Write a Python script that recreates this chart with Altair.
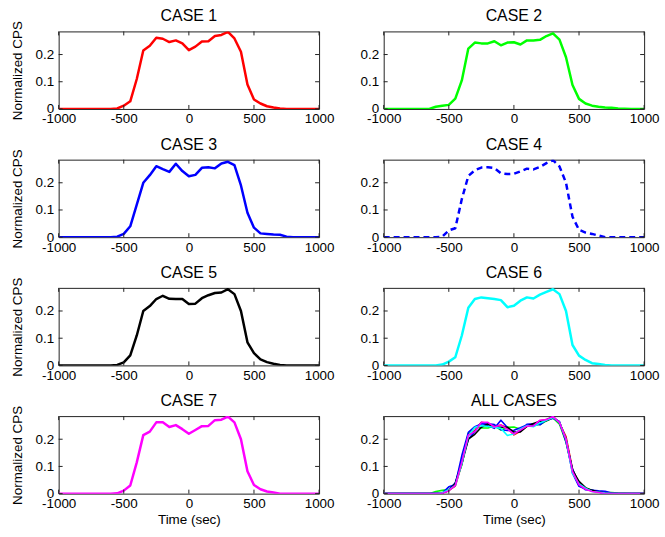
import altair as alt
import pandas as pd

TIME = [-1000, -950, -900, -850, -800, -750, -700, -650, -600, -550,
        -500, -450, -400, -350, -300, -250, -200, -150, -100, -50,
        0, 50, 100, 150, 200, 250, 300, 350, 400, 450,
        500, 550, 600, 650, 700, 750, 800, 850, 900, 950, 1000]

CASE1 = [0, 0, 0, 0, 0, 0, 0, 0, 0, 0.002,
         0.012, 0.028, 0.11, 0.215, 0.232, 0.262, 0.258, 0.246, 0.252, 0.241,
         0.216, 0.229, 0.248, 0.249, 0.268, 0.272, 0.283, 0.259, 0.21, 0.09,
         0.035, 0.02, 0.01, 0.005, 0.002, 0, 0, 0, 0, 0, 0]
CASE2 = [0, 0, 0, 0, 0, 0, 0, 0, 0.008, 0.012,
         0.015, 0.038, 0.105, 0.222, 0.244, 0.241, 0.241, 0.249, 0.234, 0.244,
         0.245, 0.237, 0.252, 0.252, 0.254, 0.268, 0.278, 0.255, 0.19, 0.088,
         0.037, 0.02, 0.012, 0.008, 0.005, 0.004, 0.002, 0.001, 0, 0, 0]
CASE3 = [0, 0, 0, 0, 0, 0, 0, 0, 0, 0.002,
         0.012, 0.04, 0.12, 0.2, 0.228, 0.261, 0.25, 0.24, 0.27, 0.243,
         0.224, 0.229, 0.255, 0.257, 0.253, 0.271, 0.277, 0.265, 0.19, 0.09,
         0.035, 0.014, 0.012, 0.01, 0.009, 0.002, 0, 0, 0, 0, 0]
CASE4 = [0, 0, 0, 0, 0, 0, 0, 0, 0, 0.002,
         0.025, 0.033, 0.14, 0.225, 0.246, 0.256, 0.257, 0.254, 0.235, 0.232,
         0.233, 0.242, 0.252, 0.249, 0.258, 0.272, 0.283, 0.26, 0.2, 0.075,
         0.027, 0.017, 0.012, 0.006, 0, 0, 0, 0, 0, 0, 0]
CASE5 = [0, 0, 0, 0, 0, 0, 0, 0, 0, 0.002,
         0.011, 0.037, 0.11, 0.2, 0.218, 0.244, 0.256, 0.245, 0.244, 0.244,
         0.226, 0.227, 0.247, 0.258, 0.266, 0.268, 0.28, 0.262, 0.2, 0.085,
         0.045, 0.022, 0.012, 0.006, 0.002, 0, 0, 0, 0, 0, 0]
CASE6 = [0, 0, 0, 0, 0, 0, 0, 0, 0, 0.003,
         0.014, 0.03, 0.11, 0.212, 0.244, 0.25, 0.247, 0.244, 0.24, 0.214,
         0.219, 0.238, 0.25, 0.246, 0.26, 0.27, 0.28, 0.262, 0.2, 0.075,
         0.036, 0.02, 0.008, 0.005, 0.002, 0, 0, 0, 0, 0, 0]
CASE7 = [0, 0, 0, 0, 0, 0, 0, 0, 0, 0.001,
         0.011, 0.03, 0.115, 0.215, 0.228, 0.262, 0.262, 0.245, 0.252, 0.237,
         0.22, 0.234, 0.248, 0.249, 0.27, 0.272, 0.283, 0.262, 0.2, 0.082,
         0.032, 0.016, 0.008, 0.004, 0, 0, 0, 0, 0, 0, 0]

SERIES = [CASE1, CASE2, CASE3, CASE4, CASE5, CASE6, CASE7]
TITLES = ["CASE 1", "CASE 2", "CASE 3", "CASE 4", "CASE 5", "CASE 6", "CASE 7", "ALL CASES"]
COLORS = ["#ff0000", "#00ff00", "#0000ff", "#0000ff", "#000000", "#00ffff", "#ff00ff"]
DASHES = [None, None, None, [6, 4], None, None, None]
XTICKS = [-1000, -500, 0, 500, 1000]
YTICKS = [0, 0.1, 0.2]

W, H = 262, 78
FONT = "Liberation Sans"
xs = alt.Scale(domain=[-1000, 1000], nice=False, zero=False)
ys = alt.Scale(domain=[0, 0.285], nice=False)


def x_axis(bottom):
    return alt.Axis(values=XTICKS, tickSize=0, domain=False, grid=False, labelPadding=3,
                    labelExpr="datum.value + ''", labelFlush=False, labelFontSize=13.5,
                    labelColor="black", titleFontSize=13.5, titleFontWeight="normal",
                    titleColor="black", titlePadding=3,
                    title="Time (sec)" if bottom else "")


def y_axis(left):
    return alt.Axis(values=YTICKS, tickSize=0, domain=False, grid=False, labelPadding=5,
                    labelExpr="datum.value + ''", labelFlush=False, labelFontSize=13.5,
                    labelColor="black", titleFontSize=13.5, titleFontWeight="normal",
                    titleColor="black", titlePadding=11,
                    title="Normalized CPS" if left else "")


def line(vals, color, dash, sw, left, bottom):
    df = pd.DataFrame({"time": TIME, "cps": vals})
    mk = dict(color=color, strokeWidth=sw, clip=True, strokeJoin="round")
    if dash:
        mk["strokeDash"] = dash
    return alt.Chart(df).mark_line(**mk).encode(
        x=alt.X("time:Q", scale=xs, axis=x_axis(bottom)),
        y=alt.Y("cps:Q", scale=ys, axis=y_axis(left)),
    )


def ticks(left, bottom):
    xt = pd.DataFrame({"time": XTICKS})
    yt = pd.DataFrame({"cps": YTICKS})
    c = "#222222"
    xb = alt.Chart(xt).mark_rule(color=c, strokeWidth=1).encode(
        x=alt.X("time:Q", scale=xs, axis=x_axis(bottom)), y=alt.value(H - 4), y2=alt.value(H))
    xtp = alt.Chart(xt).mark_rule(color=c, strokeWidth=1).encode(
        x=alt.X("time:Q", scale=xs, axis=x_axis(bottom)), y=alt.value(0), y2=alt.value(4))
    yl = alt.Chart(yt).mark_rule(color=c, strokeWidth=1).encode(
        y=alt.Y("cps:Q", scale=ys, axis=y_axis(left)), x=alt.value(0), x2=alt.value(4))
    yr = alt.Chart(yt).mark_rule(color=c, strokeWidth=1).encode(
        y=alt.Y("cps:Q", scale=ys, axis=y_axis(left)), x=alt.value(W - 4), x2=alt.value(W))
    return [xb, xtp, yl, yr]


def title_text(t):
    return alt.Chart(pd.DataFrame({"t": [t]})).mark_text(
        fontSize=16, font=FONT, color="black", baseline="alphabetic", align="center"
    ).encode(text="t:N", x=alt.value(W / 2), y=alt.value(-10))


panels = []
for i in range(8):
    left = i % 2 == 0
    bottom = i >= 6
    if i < 7:
        layers = [line(SERIES[i], COLORS[i], DASHES[i], 2.5, left, bottom)]
    else:
        layers = [line(SERIES[k], COLORS[k], None, 1.6, left, bottom) for k in range(7)]
    p = alt.layer(*layers, *ticks(left, bottom), title_text(TITLES[i])).properties(
        width=W, height=H)
    panels.append(p)

chart = alt.concat(*panels, columns=2, spacing=alt.RowColnumber(row=51, column=65),
                   bounds="flush").configure_view(
    stroke="#222222", strokeWidth=1
).configure_axis(
    labelFont=FONT, titleFont=FONT
).properties(
    padding={"left": 9, "top": 6, "right": 5, "bottom": 5}
)

chart.save("out.html", embed_options={"renderer": "svg", "actions": False})
